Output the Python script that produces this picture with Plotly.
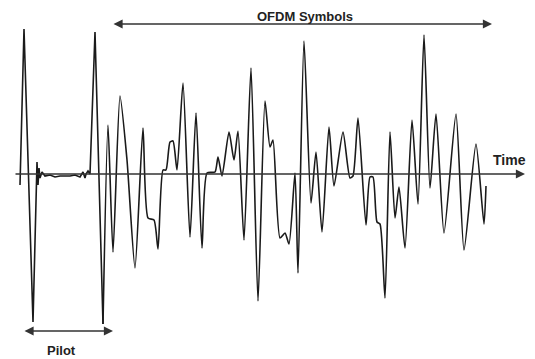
import plotly.graph_objects as go

# Time axis positions (sample index ~ pixel column) and amplitudes (relative to time axis)
pilot_t = [20, 24, 33, 37, 38, 39, 40, 42, 45, 50, 55, 60, 70, 75, 80, 83, 85, 86, 88, 90, 95, 103]
pilot_v = [-11, 145, -148, 12, -11, 6, -4, 2, -2, -1, -3, -2, -2, -1, -3, 2, -4, 0, 3, 0, 142, -150]

ofdm_t = [103, 108, 113, 120, 127, 135, 143, 148, 154, 158, 163, 166, 170, 173, 177, 183, 190, 196,
          202, 207, 215, 218, 222, 229, 234, 238, 244, 251, 258, 265, 270, 273, 280, 285, 289, 295,
          298, 304, 311, 316, 322, 329, 334, 343, 350, 353, 358, 366, 370, 373, 377, 380, 385, 390,
          395, 399, 405, 412, 418, 424, 430, 436, 444, 456, 464, 476, 484, 486]
ofdm_px = [324, 125, 252, 96, 160, 268, 128, 218, 220, 249, 170, 170, 142, 141, 170, 83, 237, 113,
           248, 173, 172, 157, 176, 132, 160, 131, 240, 68, 301, 101, 147, 140, 238, 233, 244, 173,
           273, 41, 203, 152, 232, 127, 186, 132, 178, 176, 118, 225, 177, 177, 222, 224, 298, 132,
           218, 187, 248, 120, 204, 35, 188, 114, 233, 114, 250, 144, 224, 186]
ofdm_v = [174 - p for p in ofdm_px]

line_col = "#1a1a1a"

fig = go.Figure()
fig.add_trace(go.Scatter(x=pilot_t, y=pilot_v, mode="lines",
                         line=dict(color=line_col, width=1.6), hoverinfo="skip"))
fig.add_trace(go.Scatter(x=ofdm_t, y=ofdm_v, mode="lines",
                         line=dict(color=line_col, width=1.6, shape="spline", smoothing=0.6),
                         hoverinfo="skip"))

font = dict(family="Liberation Sans, Arial, sans-serif", color="#222")

# Time axis arrow
fig.add_annotation(x=525, y=0, ax=14, ay=0, xref="x", yref="y", axref="x", ayref="y",
                   showarrow=True, arrowhead=2, arrowsize=1.3, arrowwidth=1.4,
                   arrowcolor="#333", text="", standoff=0)
fig.add_annotation(x=509, y=14, xref="x", yref="y", text="<b>Time</b>", showarrow=False,
                   font=dict(size=14, **font))

# OFDM Symbols double arrow
fig.add_annotation(x=492, y=150, ax=112, ay=150, xref="x", yref="y", axref="x", ayref="y",
                   showarrow=True, arrowhead=2, startarrowhead=2, arrowside="end+start",
                   arrowsize=1.3, startarrowsize=1.3, arrowwidth=1.4, arrowcolor="#333",
                   text="", standoff=0, startstandoff=0)
fig.add_annotation(x=305, y=158, xref="x", yref="y", text="<b>OFDM Symbols</b>", showarrow=False,
                   font=dict(size=13, **font))

# Pilot double arrow
fig.add_annotation(x=113, y=-157, ax=23, ay=-157, xref="x", yref="y", axref="x", ayref="y",
                   showarrow=True, arrowhead=2, startarrowhead=2, arrowside="end+start",
                   arrowsize=1.3, startarrowsize=1.3, arrowwidth=1.4, arrowcolor="#333",
                   text="", standoff=0, startstandoff=0)
fig.add_annotation(x=61, y=-176, xref="x", yref="y", text="<b>Pilot</b>", showarrow=False,
                   font=dict(size=13, **font))

# page body has an 8px margin: figure is 527x351 placed at (8, 8)
fig.update_layout(width=527, height=351, margin=dict(l=0, r=0, t=0, b=0),
                  paper_bgcolor="white", plot_bgcolor="white", showlegend=False)
fig.update_xaxes(range=[8, 535], visible=False, fixedrange=True)
fig.update_yaxes(range=[-185, 166], visible=False, fixedrange=True)

fig.write_html("out.html")
